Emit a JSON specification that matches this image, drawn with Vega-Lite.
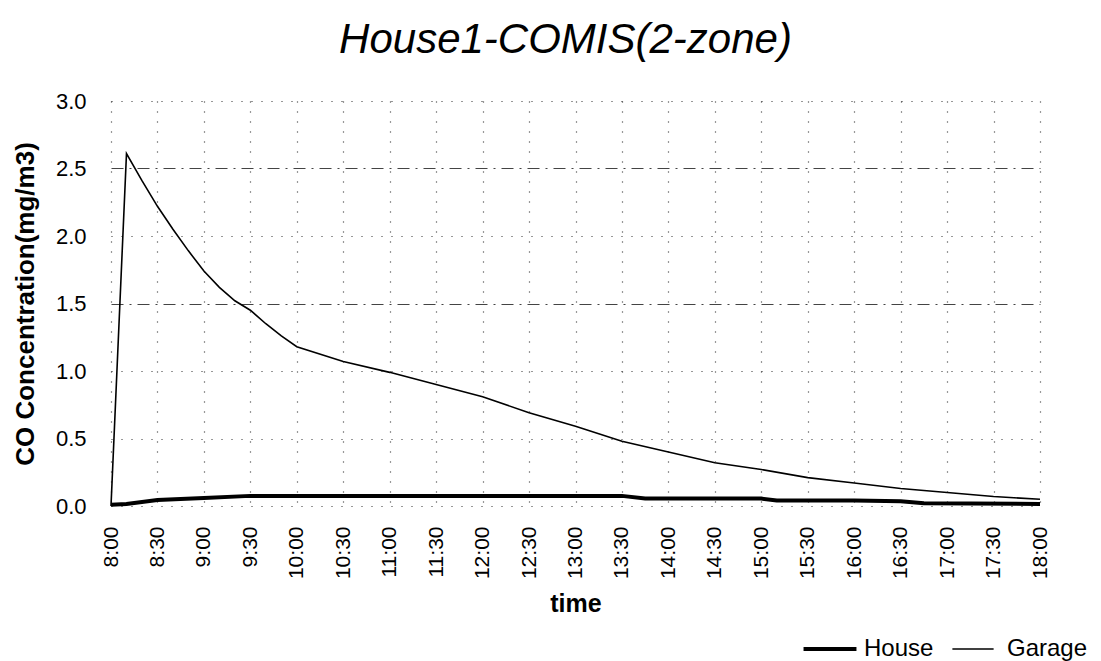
{
  "$schema": "https://vega.github.io/schema/vega-lite/v6.json",
  "width": 929,
  "height": 405,
  "autosize": {"type": "none"},
  "padding": {"left": 111, "top": 101, "right": 61, "bottom": 155},
  "background": "white",
  "config": {"font": "Liberation Sans", "view": {"stroke": null}},
  "title": {"text": "House1-COMIS(2-zone)", "fontStyle": "italic", "fontWeight": "normal", "fontSize": 42, "font": "Liberation Sans", "offset": 28, "dx": -10, "color": "black"},
  "data": {"values": [
    {"min": 480, "zone": "Garage", "co": 0.0},
    {"min": 490, "zone": "Garage", "co": 2.61},
    {"min": 500, "zone": "Garage", "co": 2.41},
    {"min": 510, "zone": "Garage", "co": 2.22},
    {"min": 520, "zone": "Garage", "co": 2.05},
    {"min": 530, "zone": "Garage", "co": 1.89},
    {"min": 540, "zone": "Garage", "co": 1.74},
    {"min": 550, "zone": "Garage", "co": 1.62},
    {"min": 560, "zone": "Garage", "co": 1.52},
    {"min": 570, "zone": "Garage", "co": 1.45},
    {"min": 580, "zone": "Garage", "co": 1.35},
    {"min": 590, "zone": "Garage", "co": 1.26},
    {"min": 600, "zone": "Garage", "co": 1.18},
    {"min": 630, "zone": "Garage", "co": 1.07},
    {"min": 660, "zone": "Garage", "co": 0.99},
    {"min": 690, "zone": "Garage", "co": 0.9},
    {"min": 720, "zone": "Garage", "co": 0.81},
    {"min": 750, "zone": "Garage", "co": 0.69},
    {"min": 780, "zone": "Garage", "co": 0.59},
    {"min": 810, "zone": "Garage", "co": 0.48},
    {"min": 840, "zone": "Garage", "co": 0.4},
    {"min": 870, "zone": "Garage", "co": 0.32},
    {"min": 900, "zone": "Garage", "co": 0.27},
    {"min": 930, "zone": "Garage", "co": 0.21},
    {"min": 960, "zone": "Garage", "co": 0.17},
    {"min": 990, "zone": "Garage", "co": 0.13},
    {"min": 1020, "zone": "Garage", "co": 0.1},
    {"min": 1050, "zone": "Garage", "co": 0.07},
    {"min": 1080, "zone": "Garage", "co": 0.05},
    {"min": 480, "zone": "House", "co": 0.01},
    {"min": 490, "zone": "House", "co": 0.015},
    {"min": 510, "zone": "House", "co": 0.045},
    {"min": 540, "zone": "House", "co": 0.06},
    {"min": 570, "zone": "House", "co": 0.075},
    {"min": 600, "zone": "House", "co": 0.075},
    {"min": 660, "zone": "House", "co": 0.075},
    {"min": 720, "zone": "House", "co": 0.075},
    {"min": 780, "zone": "House", "co": 0.075},
    {"min": 810, "zone": "House", "co": 0.075},
    {"min": 825, "zone": "House", "co": 0.055},
    {"min": 870, "zone": "House", "co": 0.055},
    {"min": 900, "zone": "House", "co": 0.055},
    {"min": 910, "zone": "House", "co": 0.04},
    {"min": 960, "zone": "House", "co": 0.04},
    {"min": 990, "zone": "House", "co": 0.035},
    {"min": 1005, "zone": "House", "co": 0.02},
    {"min": 1080, "zone": "House", "co": 0.015}
  ]},
  "mark": {"type": "line", "interpolate": "linear"},
  "encoding": {
    "x": {
      "field": "min", "type": "quantitative",
      "scale": {"domain": [480, 1080], "nice": false, "zero": false},
      "axis": {
        "values": [480, 510, 540, 570, 600, 630, 660, 690, 720, 750, 780, 810, 840, 870, 900, 930, 960, 990, 1020, 1050, 1080],
        "labelExpr": "floor(datum.value / 60) + ':' + (datum.value % 60 == 0 ? '00' : '30')",
        "labelAngle": 270,
        "labelFontSize": 21,
        "labelPadding": 20,
        "labelColor": "black",
        "labelFlush": false,
        "labelOverlap": false,
        "ticks": false,
        "domain": false,
        "grid": true,
        "gridDash": [1, 9],
        "gridColor": "#333",
        "gridWidth": 1.2,
        "title": "time",
        "titleFontSize": 25,
        "titleFontWeight": "bold",
        "titleColor": "black",
        "titlePadding": 13
      }
    },
    "y": {
      "field": "co", "type": "quantitative",
      "scale": {"domain": [0, 3]},
      "axis": {
        "values": [0, 0.5, 1, 1.5, 2, 2.5, 3],
        "format": ".1f",
        "labelFontSize": 22,
        "labelColor": "black",
        "labelPadding": 25,
        "ticks": false,
        "domain": false,
        "grid": true,
        "gridDash": {"condition": {"test": "datum.value == 2.5 || datum.value == 1.5", "value": [12, 6, 2, 6]}, "value": [1, 9]},
        "gridColor": {"condition": {"test": "datum.value == 2.5 || datum.value == 1.5", "value": "#444"}, "value": "#333"},
        "gridWidth": 1.2,
        "title": "CO Concentration(mg/m3)",
        "titleFontSize": 26,
        "titleFontWeight": "bold",
        "titleColor": "black",
        "titlePadding": 17
      }
    },
    "color": {
      "field": "zone", "type": "nominal",
      "scale": {"domain": ["House", "Garage"], "range": ["black", "black"]},
      "legend": {
        "orient": "none",
        "legendX": 707,
        "legendY": 536,
        "padding": 0,
        "direction": "horizontal",
        "title": null,
        "symbolType": "stroke",
        "symbolSize": 2800,
        "labelFontSize": 24,
        "labelColor": "black",
        "columnPadding": 15,
        "labelOffset": 22,
        "encode": {"symbols": {"update": {
          "strokeWidth": {"signal": "datum.value === 'House' ? 4 : 1.6"},
          "size": {"signal": "datum.value === 'House' ? 2800 : 1700"}
        }}}
      }
    },
    "strokeWidth": {
      "condition": {"test": "datum.zone === 'House'", "value": 4},
      "value": 1.6
    }
  }
}
